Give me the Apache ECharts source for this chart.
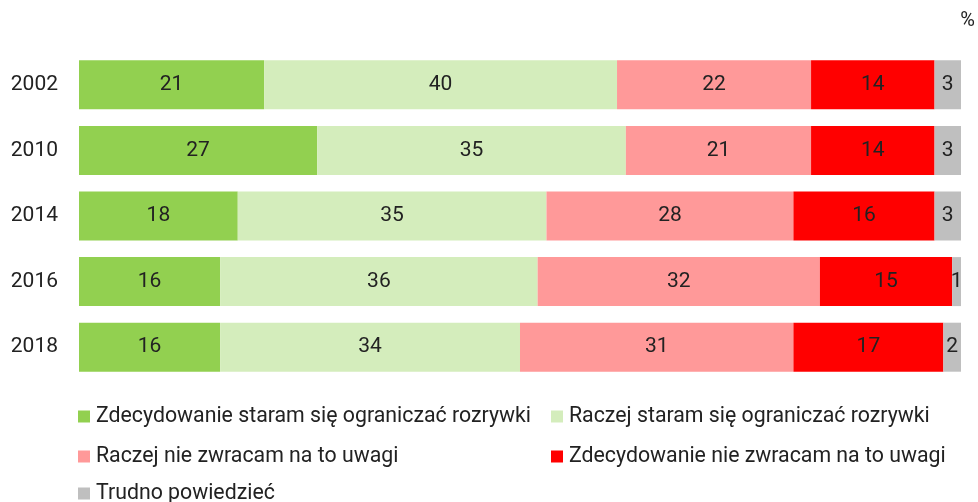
<!DOCTYPE html>
<html><head><meta charset="utf-8">
<script src="https://cdn.jsdelivr.net/npm/echarts@6/dist/echarts.min.js"></script>
<style>html,body{margin:0;padding:0;background:#fff}#c{width:978px;height:502px}</style>
</head><body><div id="c"></div>
<script>
const years = ['2002', '2010', '2014', '2016', '2018'];
const seriesNames = [
  'Zdecydowanie staram się ograniczać rozrywki',
  'Raczej staram się ograniczać rozrywki',
  'Raczej nie zwracam na to uwagi',
  'Zdecydowanie nie zwracam na to uwagi',
  'Trudno powiedzieć'
];
const zdecStaram = [21, 27, 18, 16, 16];
const raczejStaram = [40, 35, 35, 36, 34];
const raczejNie = [22, 21, 28, 32, 31];
const zdecNie = [14, 14, 16, 15, 17];
const trudno = [3, 3, 3, 1, 2];
const values = [zdecStaram, raczejStaram, raczejNie, zdecNie, trudno];
const colors = ['#92D050', '#D4EDBC', '#FF9999', '#FF0000', '#BFBFBF'];

const FONT = 'Roboto';
const FS = 21;
const chart = echarts.init(document.getElementById('c'));
const legendPos = [
  {left: 78, top: 406},
  {left: 551, top: 406},
  {left: 78, top: 446},
  {left: 551, top: 446},
  {left: 78, top: 483}
];
chart.setOption({
  animation: false,
  textStyle: {fontFamily: FONT},
  title: {text: '%', right: 3, top: 11, padding: 0, textStyle: {fontSize: 20, fontWeight: 'normal', color: '#222', fontFamily: FONT}},
  grid: {left: 79, right: 17, top: 52, bottom: 122, containLabel: false},
  xAxis: {type: 'value', min: 0, max: 100, show: false},
  yAxis: {
    type: 'category', data: years, inverse: true,
    axisLine: {show: false}, axisTick: {show: false},
    axisLabel: {fontSize: FS, color: '#222', margin: 21, fontFamily: FONT}
  },
  legend: legendPos.map((p, i) => ({
    data: [seriesNames[i]], left: p.left, top: p.top, padding: 0,
    icon: 'rect', itemWidth: 12, itemHeight: 12, itemGap: 0,
    textStyle: {fontSize: 21.3, color: '#222', fontFamily: FONT, padding: [0, 0, 0, 1]},
    selectedMode: false
  })),
  series: seriesNames.map((n, i) => ({
    name: n, type: 'bar', stack: 'a', data: values[i],
    barWidth: 49,
    itemStyle: {color: colors[i]},
    label: {show: true, position: 'inside', fontSize: FS, color: '#222', fontFamily: FONT}
  }))
});
</script></body></html>
